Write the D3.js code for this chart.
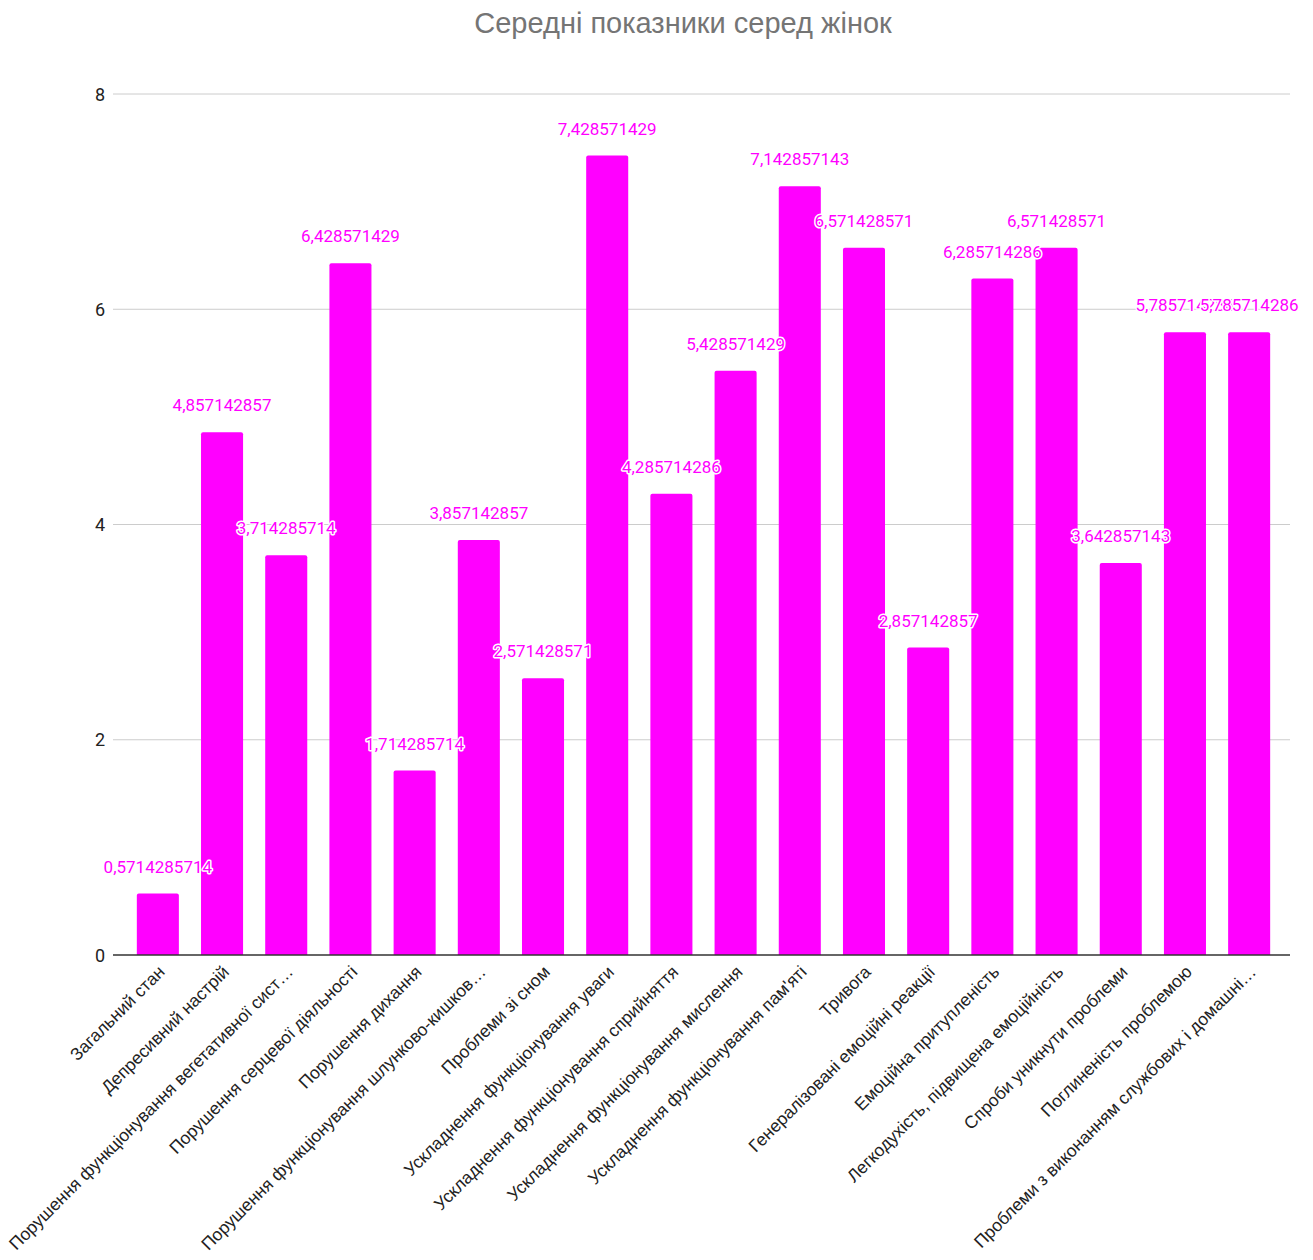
<!DOCTYPE html>
<html>
<head>
<meta charset="utf-8">
<script src="https://cdn.jsdelivr.net/npm/d3@7"></script>
<style>
  body { margin: 0; background: #fff; }
  .title { font-family: "Liberation Sans", Arial, sans-serif; font-size: 29px; fill: #757575; }
  .ytick { font-family: Roboto, sans-serif; font-size: 18px; fill: #222; }
  .xlab { font-family: "Liberation Sans", Arial, sans-serif; font-size: 17.5px; fill: #222; }
  .val { font-family: Roboto, sans-serif; font-size: 17px; fill: #ff00ff;
         stroke: #fff; stroke-width: 3px; stroke-linejoin: round; paint-order: stroke; }
</style>
</head>
<body>
<svg width="1313" height="1260"></svg>
<script>
"use strict";

var title = "Середні показники серед жінок";

var categories = [
  "Загальний стан",
  "Депресивний настрій",
  "Порушення функціонування вегетативної сист…",
  "Порушення серцевої діяльності",
  "Порушення дихання",
  "Порушення функціонування шлунково-кишков…",
  "Проблеми зі сном",
  "Ускладнення функціонування уваги",
  "Ускладнення функціонування сприйняття",
  "Ускладнення функціонування мислення",
  "Ускладнення функціонування пам'яті",
  "Тривога",
  "Генералізовані емоційні реакції",
  "Емоційна притупленість",
  "Легкодухість, підвищена емоційність",
  "Спроби уникнути проблеми",
  "Поглиненість проблемою",
  "Проблеми з виконанням службових і домашні…"
];

var values = [
  0.5714285714, 4.857142857, 3.714285714, 6.428571429, 1.714285714,
  3.857142857, 2.571428571, 7.428571429, 4.285714286, 5.428571429,
  7.142857143, 6.571428571, 2.857142857, 6.285714286, 6.571428571,
  3.642857143, 5.785714286, 5.785714286
];

var valueLabels = [
  "0,5714285714", "4,857142857", "3,714285714", "6,428571429", "1,714285714",
  "3,857142857", "2,571428571", "7,428571429", "4,285714286", "5,428571429",
  "7,142857143", "6,571428571", "2,857142857", "6,285714286", "6,571428571",
  "3,642857143", "5,785714286", "5,785714286"
];

var yTicks = [0, 2, 4, 6, 8];

var svg = d3.select("svg");
var plotLeft = 113, plotRight = 1290, plotTop = 94, plotBottom = 955;

// bars sit ~2px right of the gridline span
var x = d3.scaleBand()
    .domain(categories)
    .range([plotLeft + 2, plotRight + 2])
    .paddingInner(0.345)
    .paddingOuter(0.34);

var y = d3.scaleLinear()
    .domain([0, 8])
    .range([plotBottom, plotTop]);

svg.append("text")
   .attr("class", "title")
   .attr("x", 683)
   .attr("y", 33)
   .attr("text-anchor", "middle")
   .text(title);

// gridlines + y tick labels
var grid = svg.append("g");
yTicks.forEach(function(t) {
    if (t > 0) {
        grid.append("line")
            .attr("x1", plotLeft).attr("x2", plotRight)
            .attr("y1", y(t)).attr("y2", y(t))
            .attr("stroke", "#ccc").attr("stroke-width", 1);
    }
    grid.append("text")
        .attr("class", "ytick")
        .attr("x", 105)
        .attr("y", y(t) + 6.5)
        .attr("text-anchor", "end")
        .text(t);
});

// bars
svg.append("g")
   .selectAll("path").data(values).enter()
   .append("path")
   .attr("fill", "#ff00ff")
   .attr("d", function(d, i) {
       var x0 = x(categories[i]), w = x.bandwidth();
       var y0 = y(d), r = 2;
       return "M" + x0 + "," + plotBottom +
              "V" + (y0 + r) + "Q" + x0 + "," + y0 + " " + (x0 + r) + "," + y0 +
              "H" + (x0 + w - r) + "Q" + (x0 + w) + "," + y0 + " " + (x0 + w) + "," + (y0 + r) +
              "V" + plotBottom + "Z";
   });

// baseline
svg.append("line")
   .attr("x1", plotLeft).attr("x2", plotRight)
   .attr("y1", plotBottom).attr("y2", plotBottom)
   .attr("stroke", "#333").attr("stroke-width", 1.5);

// value labels, drawn in order so later halos cover earlier text
var vg = svg.append("g");
values.forEach(function(d, i) {
    vg.append("text")
      .attr("class", "val")
      .attr("x", x(categories[i]) + x.bandwidth() / 2)
      .attr("y", y(d) - 21)
      .attr("text-anchor", "middle")
      .text(valueLabels[i]);
});

// rotated category labels
svg.append("g")
   .selectAll("text").data(categories).enter()
   .append("text")
   .attr("class", "xlab")
   .attr("text-anchor", "end")
   .attr("transform", function(d) {
       var cx = x(d) + x.bandwidth() / 2 + 8;
       return "translate(" + cx + "," + 973 + ") rotate(-45)";
   })
   .text(function(d) { return d; });
</script>
</body>
</html>
